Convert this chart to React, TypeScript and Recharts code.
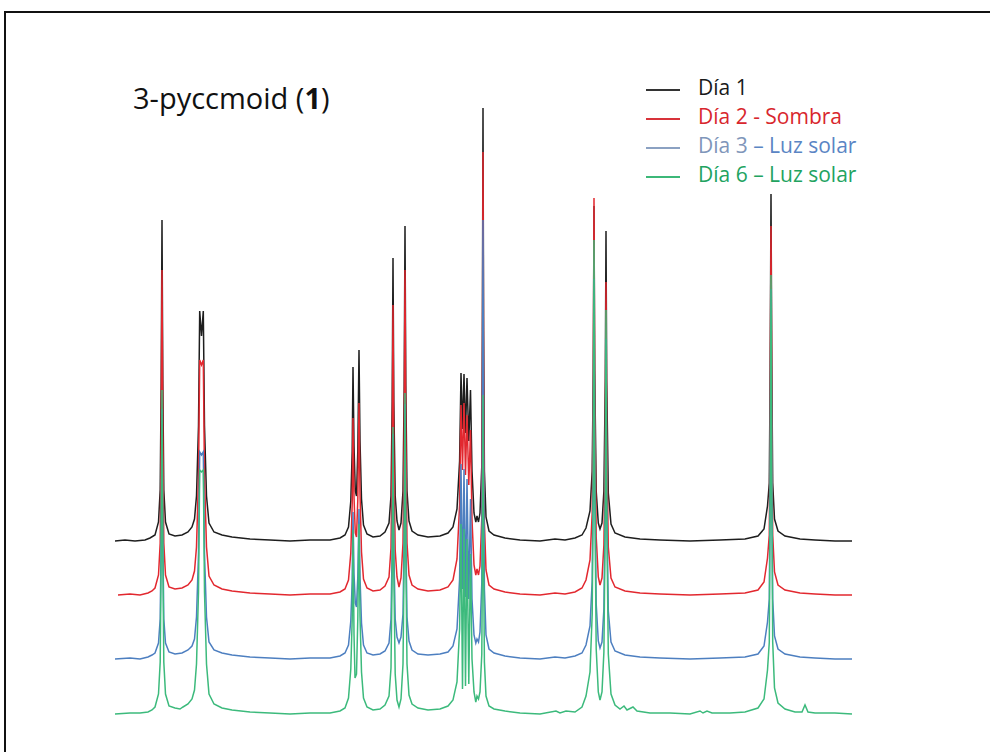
import { LineChart, Line, XAxis, YAxis, Legend } from 'recharts'

// spectra: [position, intensity above the trace's own baseline]
const DAY1: [number, number][] = [
  [115, 0], [125, 1], [135, 0], [145, 1], [150, 3],
  [155, 6], [158.5, 19], [160.2, 51], [161.2, 160], [162, 321], [162.8, 160], [163.8, 51], [165.5, 19], [169, 7],
  [175, 5], [182, 6], [188, 9], [192, 14],
  [194.5, 22], [196.5, 45], [198.5, 115], [199.7, 230], [201.5, 205], [203.3, 230], [204.5, 115], [206.5, 45], [209, 18], [214, 9], [222, 6], [232, 4], [250, 2], [270, 1], [290, 0], [310, 1], [330, 1], [340, 3],
  [345, 6], [348.5, 14], [350.8, 40], [352.2, 90], [353, 174], [354, 95], [355.3, 50], [356.5, 45], [357.8, 90], [359, 191], [360, 100], [361.5, 42], [363.5, 16], [367, 7], [373, 4], [380, 5], [385, 9],
  [389, 18], [391, 45], [392.2, 140], [393, 283], [393.8, 140], [395.2, 45], [397, 20], [399, 11], [401, 18], [403, 50], [404.2, 155], [405, 315], [405.8, 155], [407, 50], [409, 20], [412, 10], [418, 6], [428, 4], [440, 5], [448, 8],
  [453, 14], [457, 32], [459.6, 80], [461, 168], [462.5, 112], [464, 167], [465.5, 108], [467, 163], [468.8, 100], [470.5, 151], [472, 70], [474, 28], [475.8, 19], [477, 25], [478.5, 19],
  [480, 28], [481.8, 75], [482.4, 210], [483, 433], [483.6, 210], [484.4, 70], [486, 24], [489, 10], [494, 6], [505, 3], [520, 1], [540, 0], [555, 2], [565, 1], [575, 3], [582, 6],
  [586, 13], [590, 30], [592.2, 70], [593.3, 170], [594, 335], [594.7, 170], [596.2, 50], [598.3, 18], [600, 12], [602, 18], [603.9, 50], [605.3, 160], [606, 310], [606.7, 160], [608.3, 48], [611, 17], [615, 8], [625, 4], [640, 2], [660, 1], [690, 0], [720, 1], [745, 2], [758, 5],
  [764, 12], [767.5, 35], [769.3, 58], [770.2, 175], [771, 347], [771.8, 175], [772.7, 58], [774.5, 22], [778, 10], [785, 5], [800, 2], [815, 1], [835, 0], [852, 0],
]

const DAY2: [number, number][] = [
  [118, 0], [130, 1], [140, 0], [148, 2], [152, 4],
  [155, 7], [158.5, 20], [160.2, 52], [161.2, 162], [162, 325], [162.8, 162], [163.8, 52], [165.5, 20], [169, 8],
  [175, 6], [182, 7], [188, 10], [192, 15],
  [194.5, 24], [196.5, 48], [198.5, 118], [199.7, 235], [201.5, 230], [203.3, 235], [204.5, 118], [206.5, 48], [209, 19], [214, 10], [222, 6], [232, 4], [250, 2], [270, 1], [290, 0], [310, 1], [330, 1], [340, 3],
  [345, 6], [348.5, 15], [350.8, 42], [352.2, 92], [353, 177], [354, 98], [355.3, 62], [356.5, 58], [357.8, 95], [359, 192], [360, 102], [361.5, 43], [363.5, 16], [367, 7], [373, 4], [380, 5], [385, 9],
  [389, 18], [391, 47], [392.2, 145], [393, 290], [393.8, 145], [395.2, 45], [397, 18], [399, 8], [401, 17], [403, 52], [404.2, 162], [405, 325], [405.8, 162], [407, 52], [409, 20], [412, 10], [418, 6], [428, 4], [440, 5], [448, 8],
  [453, 15], [457, 36], [459.6, 90], [461, 190], [462.5, 125], [464, 192], [465.5, 120], [467, 180], [468.8, 110], [470.5, 165], [472, 75], [474, 30], [475.8, 20], [477, 26], [478.5, 20],
  [480, 29], [481.8, 77], [482.4, 215], [483, 443], [483.6, 215], [484.4, 72], [486, 25], [489, 10], [494, 6], [505, 3], [520, 1], [540, 0], [555, 2], [565, 1], [575, 3], [582, 7],
  [586, 15], [590, 35], [592.2, 82], [593.3, 200], [594, 397], [594.7, 200], [596.2, 58], [598.3, 18], [600, 10], [602, 17], [603.9, 50], [605.3, 160], [606, 313], [606.7, 160], [608.3, 48], [611, 17], [615, 8], [625, 4], [640, 2], [660, 1], [690, 0], [720, 1], [745, 2], [758, 5],
  [764, 13], [767.5, 37], [769.3, 60], [770.2, 185], [771, 369], [771.8, 185], [772.7, 60], [774.5, 23], [778, 10], [785, 5], [800, 2], [815, 1], [835, 0], [852, 0],
]

const DAY3: [number, number][] = [
  [115, 0], [130, 1], [140, 0], [148, 2], [152, 4],
  [155, 6], [158.5, 16], [160.2, 40], [161.2, 125], [162, 250], [162.8, 125], [163.8, 40], [165.5, 16], [169, 7],
  [175, 5], [182, 6], [188, 9], [192, 13],
  [194.5, 20], [196.5, 42], [198.5, 105], [199.7, 207], [201.5, 204], [203.3, 207], [204.5, 105], [206.5, 42], [209, 17], [214, 9], [222, 6], [232, 4], [250, 2], [270, 1], [290, 0], [310, 1], [330, 1], [340, 3],
  [345, 6], [348.5, 14], [350.8, 38], [352.2, 78], [353, 147], [354, 85], [355.3, 56], [356.5, 52], [357.8, 82], [359, 150], [360, 82], [361.5, 36], [363.5, 14], [367, 6], [373, 4], [380, 5], [385, 8],
  [389, 16], [391, 40], [392.2, 112], [393, 225], [393.8, 112], [395.2, 40], [397, 22], [399, 16], [401, 22], [403, 45], [404.2, 128], [405, 255], [405.8, 128], [407, 42], [409, 18], [412, 9], [418, 5], [428, 4], [440, 5], [448, 7],
  [453, 13], [457, 30], [459.6, 80], [461, 195], [462.5, 70], [464, 190], [465.5, 62], [467, 180], [468.8, 60], [470.5, 160], [472, 60], [474, 24], [475.8, 16], [477, 20], [478.5, 17],
  [480, 27], [481.8, 76], [482.4, 215], [483, 439], [483.6, 215], [484.4, 70], [486, 24], [489, 10], [494, 6], [505, 3], [520, 1], [540, 0], [555, 2], [565, 1], [575, 3], [582, 6],
  [586, 14], [590, 33], [592.2, 78], [593.3, 190], [594, 380], [594.7, 190], [596.2, 55], [598.3, 18], [600, 11], [602, 17], [603.9, 50], [605.3, 160], [606, 320], [606.7, 160], [608.3, 48], [611, 17], [615, 8], [625, 4], [640, 2], [660, 1], [690, 0], [720, 1], [745, 2], [758, 5],
  [764, 13], [767.5, 37], [769.3, 60], [770.2, 185], [771, 370], [771.8, 185], [772.7, 60], [774.5, 23], [778, 10], [785, 5], [800, 2], [815, 1], [835, 0], [852, 0],
]

const DAY6: [number, number][] = [
  [115, 0], [130, 1], [140, 1], [148, 2], [152, 4],
  [155, 7], [158.5, 20], [160.2, 52], [161.2, 162], [162, 324], [162.8, 162], [163.8, 52], [165.5, 20], [169, 8],
  [175, 6], [180, 5], [183, 7], [188, 10], [192, 15],
  [194.5, 24], [196.5, 50], [198.5, 122], [199.7, 244], [201.5, 242], [203.3, 244], [204.5, 122], [206.5, 50], [209, 20], [214, 10], [222, 6], [232, 4], [250, 2], [270, 1], [290, 0], [310, 1], [330, 1], [340, 3],
  [345, 6], [348.5, 16], [350.8, 45], [352.2, 95], [353, 184], [354, 80], [355, 36], [356.5, 40], [357.8, 95], [359, 190], [360, 98], [361.5, 42], [363.5, 16], [367, 7], [373, 4], [380, 5], [385, 9],
  [389, 18], [391, 46], [392.2, 143], [393, 287], [393.8, 143], [395.2, 40], [397, 14], [399, 7], [401, 15], [403, 50], [404.2, 160], [405, 321], [405.8, 160], [407, 50], [409, 19], [412, 10], [418, 6], [428, 4], [440, 5], [448, 8],
  [453, 14], [457, 32], [459.6, 85], [461, 190], [462.5, 25], [464, 185], [465.5, 28], [467, 175], [468.8, 30], [470.5, 160], [472, 55], [474, 22], [475.8, 12], [477, 18], [478.5, 15],
  [480, 22], [481.8, 60], [482.4, 155], [483, 319], [483.6, 155], [484.4, 52], [486, 18], [489, 8], [494, 5], [505, 3], [520, 1], [540, 0], [556, 3], [560, 1], [566, 3], [575, 2], [582, 7],
  [586, 18], [590, 42], [592.2, 100], [593.3, 237], [594, 474], [594.7, 237], [596.2, 65], [598.3, 22], [600, 14], [602, 22], [603.9, 62], [605.3, 202], [606, 404], [606.7, 202], [608.3, 60], [611, 20], [615, 9], [620, 5], [624, 8], [627, 4], [633, 7], [637, 3], [650, 1], [670, 1], [690, 0], [700, 3], [703, 1], [707, 3], [712, 1], [730, 1], [745, 2], [758, 6],
  [764, 15], [767.5, 44], [769.3, 72], [770.2, 220], [771, 439], [771.8, 220], [772.7, 72], [774.5, 26], [778, 11], [785, 5], [795, 2], [802, 2], [805, 9], [808, 2], [815, 1], [835, 1], [852, 0],
]

// stacking offsets of each trace (same units as intensity)
const OFFSETS = [189, 135, 71, 16]
const SPECTRA = [DAY1, DAY2, DAY3, DAY6]
const LINE_COLORS = ['#1e1e1e', '#e2282f', '#4d7fc0', '#3cba7c']

const series = SPECTRA.map((s, i) => s.map(([pos, h]) => ({ pos, v: h + OFFSETS[i] })))

const font = "'Open Sans', sans-serif"

function LegendRows() {
  const rows = [
    { line: '#333333', parts: [['Día 1', '#1a1a1a']] },
    { line: '#d8333a', parts: [['Día 2 - Sombra', '#d8262d']] },
    { line: '#8ba1c2', parts: [['Día 3 ', '#7f96ba'], ['– Luz solar', '#5a85c4']] },
    { line: '#3cb878', parts: [['Día 6 – Luz solar', '#22a35f']] },
  ]
  return (
    <div style={{ fontFamily: font, fontSize: 21, lineHeight: '29px' }}>
      {rows.map((r, i) => (
        <div key={i} style={{ position: 'relative', height: 29, whiteSpace: 'nowrap' }}>
          <div style={{ position: 'absolute', left: 0, top: 17, width: 34, height: 1.5, background: r.line }} />
          <span style={{ position: 'absolute', left: 52, top: 1 }}>
            {r.parts.map(([t, c], j) => (
              <span key={j} style={{ color: c }}>{t}</span>
            ))}
          </span>
        </div>
      ))}
    </div>
  )
}

export default function App() {
  return (
    <div style={{ position: 'absolute', left: 0, top: 0, width: 990, height: 752, overflow: 'hidden', background: '#fff' }}>
      <div style={{ position: 'absolute', left: 4, top: 11, width: 1000, height: 800, border: '2px solid #111', boxSizing: 'border-box' }} />
      <div style={{ position: 'absolute', left: 133, top: 78, fontFamily: font, fontSize: 29, lineHeight: '40px', color: '#111', whiteSpace: 'nowrap' }}>
        3-pyccmoid (<b>1</b>)
      </div>
      <div style={{ position: 'absolute', left: 0, top: 0 }}>
        <LineChart width={990} height={752} margin={{ top: 100, right: 120, bottom: 22, left: 100 }}>
          <XAxis dataKey="pos" type="number" domain={[100, 870]} hide />
          <YAxis type="number" domain={[0, 630]} hide />
          <Legend
            layout="vertical"
            align="center"
            verticalAlign="middle"
            wrapperStyle={{ top: 72, left: 646, width: 240 }}
            content={() => <LegendRows />}
          />
          {series.map((d, i) => (
            <Line
              key={i}
              data={d}
              dataKey="v"
              type="linear"
              stroke={LINE_COLORS[i]}
              strokeWidth={1.5}
              dot={false}
              activeDot={false}
              isAnimationActive={false}
            />
          ))}
        </LineChart>
      </div>
    </div>
  )
}
